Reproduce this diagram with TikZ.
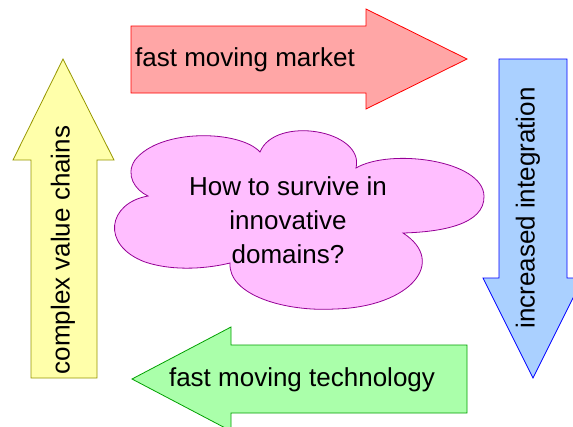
\documentclass[tikz,border=0pt]{standalone}
\usepackage{fontspec}
\setmainfont{Liberation Sans}
\usepackage{tikz}
\definecolor{marketfill}{RGB}{255,166,166}
\definecolor{marketline}{RGB}{255,0,0}
\definecolor{integfill}{RGB}{170,208,255}
\definecolor{integline}{RGB}{0,0,255}
\definecolor{techfill}{RGB}{170,255,170}
\definecolor{techline}{RGB}{0,160,0}
\definecolor{chainfill}{RGB}{255,255,170}
\definecolor{chainline}{RGB}{150,150,0}
\definecolor{cloudfill}{RGB}{255,190,255}
\definecolor{cloudline}{RGB}{150,0,150}
\tikzstyle{bigarrow} = [line width=0.8pt, line join=miter]
\tikzstyle{arrowtext} = [font=\fontsize{26}{34}\selectfont, text=black, inner sep=0pt, align=center]

\begin{document}
\begin{tikzpicture}[x=1pt, y=-1pt]
        \useasboundingbox (0,0) rectangle (573,426);
        \clip (0,0) rectangle (573,426);
        % arrows
        \draw [bigarrow, draw=marketline, fill=marketfill] (131,26) -- (366,26) -- (366,9) -- (467,59) -- (366,109) -- (366,93) -- (131,93) -- cycle;
        \draw [bigarrow, draw=integline, fill=integfill] (499,59) -- (567,59) -- (567,278) -- (583,278) -- (533,378) -- (483,278) -- (499,278) -- cycle;
        \draw [bigarrow, draw=techline, fill=techfill] (467,345) -- (231,345) -- (231,327) -- (132,379) -- (231,431) -- (231,413) -- (467,413) -- cycle;
        \draw [bigarrow, draw=chainline, fill=chainfill] (31,378) -- (31,160) -- (13,160) -- (63,59) -- (114,160) -- (97,160) -- (97,378) -- cycle;
        % cloud
        \draw [bigarrow, draw=cloudline, fill=cloudfill] (148,196)
              .. controls (108,203) and (100,245) .. (145,262)
              .. controls (175,272) and (210,268) .. (230,263)
              .. controls (228,295) and (285,312) .. (335,309)
              .. controls (410,307) and (448,262) .. (403,233)
              .. controls (440,232) and (485,225) .. (484,196)
              .. controls (483,160) and (390,148) .. (356,168)
              .. controls (365,130) and (275,115) .. (260,152)
              .. controls (240,130) and (160,128) .. (135,160)
              .. controls (125,175) and (135,190) .. (148,196) -- cycle;
        % texts
        \node (market) [arrowtext, anchor=west] at (135,60) {fast moving market};
        \node (integ) [arrowtext, rotate=90] at (528,208) {increased integration};
        \node (tech) [arrowtext] at (302,380) {fast moving technology};
        \node (chains) [arrowtext, rotate=90] at (63,250) {complex value chains};
        \node (question) [arrowtext] at (288,220) {How to survive in\\innovative\\domains?};
      \end{tikzpicture}
\end{document}
